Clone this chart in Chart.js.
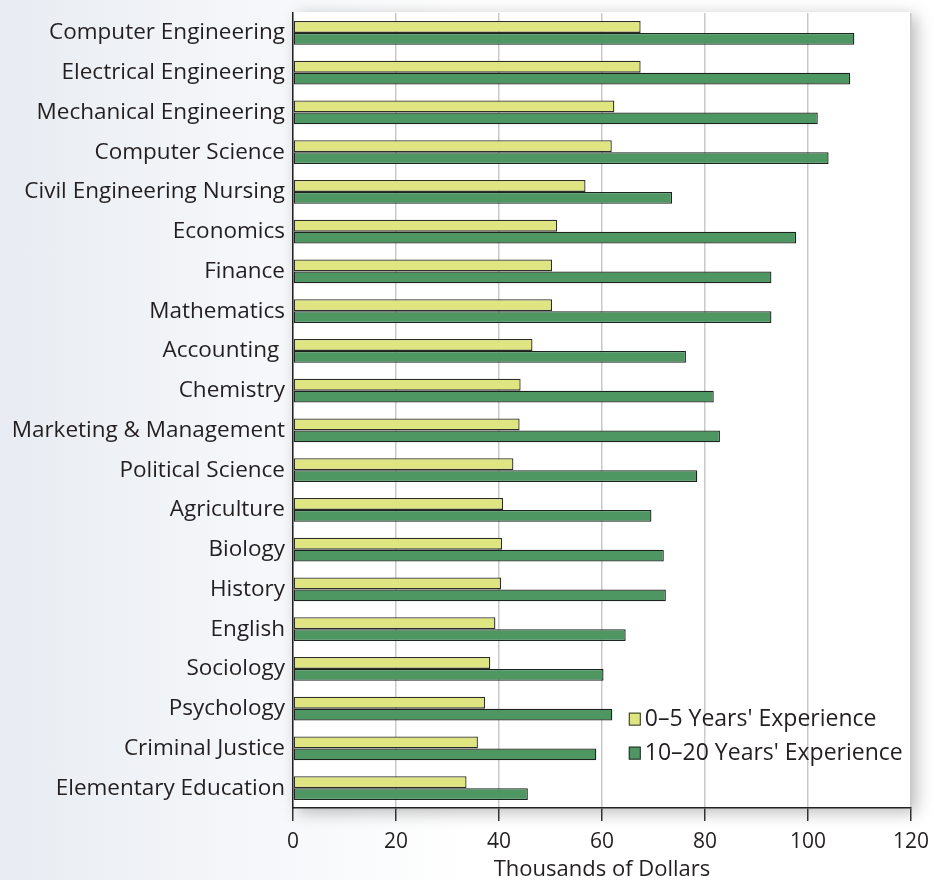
<!DOCTYPE html>
<html lang="en">
<head>
  <meta charset="UTF-8" />
  <title>Salaries by Major</title>
  <script src="https://cdn.jsdelivr.net/npm/chart.js"></script>
  <style>
    html, body {
      margin: 0;
      padding: 0;
    }
    body {
      width: 934px;
      height: 880px;
      background: linear-gradient(to right, #e8ecf2 0%, #f4f6f9 25%, #ffffff 50%);
      font-family: 'Open Sans', sans-serif;
    }
    .wrap {
      position: relative;
      width: 934px;
      height: 880px;
    }
  </style>
</head>
<body>
  <div class="wrap">
    <canvas id="salaryChart" width="934" height="880"></canvas>
  </div>

  <script>
    const majors = [
      'Computer Engineering', 'Electrical Engineering', 'Mechanical Engineering',
      'Computer Science', 'Civil Engineering Nursing', 'Economics', 'Finance',
      'Mathematics', 'Accounting ', 'Chemistry', 'Marketing & Management',
      'Political Science', 'Agriculture', 'Biology', 'History', 'English',
      'Sociology', 'Psychology', 'Criminal Justice', 'Elementary Education'
    ];
    const earlyCareer = [67.5, 67.5, 62.4, 61.9, 56.8, 51.3, 50.3, 50.3, 46.5, 44.2,
                         44.0, 42.8, 40.8, 40.6, 40.4, 39.3, 38.3, 37.3, 35.9, 33.7];
    const midCareer = [109.0, 108.2, 101.9, 104.0, 73.6, 97.7, 92.9, 92.9, 76.3, 81.7,
                       82.9, 78.5, 69.6, 72.0, 72.4, 64.6, 60.3, 62.0, 58.9, 45.6];
    const xTicks = [0, 20, 40, 60, 80, 100, 120];

    const textColor = '#231f20';
    const fontFamily = "'Open Sans', sans-serif";

    // white plot panel with a soft shadow on the right/bottom
    const panelPlugin = {
      id: 'panel',
      beforeDraw(chart) {
        const { ctx, chartArea: a } = chart;
        ctx.save();
        ctx.shadowColor = 'rgba(0,0,0,0.28)';
        ctx.shadowBlur = 16;
        ctx.shadowOffsetX = 5;
        ctx.shadowOffsetY = 4;
        ctx.fillStyle = '#ffffff';
        ctx.fillRect(a.left, a.top - 1, a.right - a.left, a.bottom - a.top + 1);
        ctx.restore();
      }
    };

    // legend drawn inside the plot, lower right
    const innerLegend = {
      id: 'innerLegend',
      afterDraw(chart) {
        const { ctx } = chart;
        const x0 = chart.scales.x.getPixelForValue(65.2);
        const yTop = chart.scales.y.getPixelForValue(17);
        ctx.save();
        ctx.font = `23px ${fontFamily}`;
        ctx.textBaseline = 'middle';
        chart.data.datasets.forEach((ds, i) => {
          const y = yTop + 10 + i * 34;
          ctx.fillStyle = ds.backgroundColor;
          ctx.fillRect(x0, y - 6, 12, 13);
          ctx.strokeStyle = '#2a2a2a';
          ctx.lineWidth = 1;
          ctx.strokeRect(x0 + 0.5, y - 5.5, 11, 12);
          ctx.fillStyle = textColor;
          ctx.fillText(ds.label, x0 + 16, y + 1);
        });
        ctx.restore();
      }
    };

    const ctx = document.getElementById('salaryChart').getContext('2d');
    const chart = new Chart(ctx, {
      type: 'bar',
      data: {
        labels: majors,
        datasets: [
          {
            label: "0\u20135 Years' Experience",
            data: earlyCareer,
            backgroundColor: '#dfe681',
            borderColor: '#2e2e28',
            borderWidth: 1.3,
            borderSkipped: false,
            categoryPercentage: 0.6,
            barPercentage: 1.0
          },
          {
            label: "10\u201320 Years' Experience",
            data: midCareer,
            backgroundColor: '#4e9662',
            borderColor: '#1c221e',
            borderWidth: 1.3,
            borderSkipped: false,
            categoryPercentage: 0.6,
            barPercentage: 1.0
          }
        ]
      },
      options: {
        indexAxis: 'y',
        responsive: false,
        animation: false,
        layout: {
          padding: { top: 13, right: 23, left: 0, bottom: 0 }
        },
        scales: {
          x: {
            min: 0,
            max: 120,
            afterBuildTicks: scale => {
              scale.ticks = xTicks.map(v => ({ value: v }));
            },
            afterFit: scale => {
              scale.height = 72;
              scale.paddingLeft = 0;
              scale.paddingRight = 0;
            },
            grid: {
              color: '#c9c9c9',
              lineWidth: 1.5,
              tickColor: '#333',
              tickLength: 13,
              drawOnChartArea: true
            },
            border: { color: '#222', width: 1.5 },
            ticks: {
              color: textColor,
              font: { family: fontFamily, size: 21 },
              padding: 8
            },
            title: {
              display: true,
              text: 'Thousands of Dollars',
              color: textColor,
              font: { family: fontFamily, size: 22 },
              padding: { top: 0, bottom: -3 }
            }
          },
          y: {
            afterFit: scale => {
              scale.width = 293;
              scale.paddingTop = 0;
              scale.paddingBottom = 0;
            },
            grid: { display: false, drawTicks: false },
            border: { color: '#222', width: 1.5 },
            ticks: {
              color: textColor,
              font: { family: fontFamily, size: 22.5 },
              padding: 8,
              autoSkip: false
            }
          }
        },
        plugins: {
          legend: { display: false },
          tooltip: { enabled: false }
        }
      },
      plugins: [panelPlugin, innerLegend]
    });
  </script>
</body>
</html>
